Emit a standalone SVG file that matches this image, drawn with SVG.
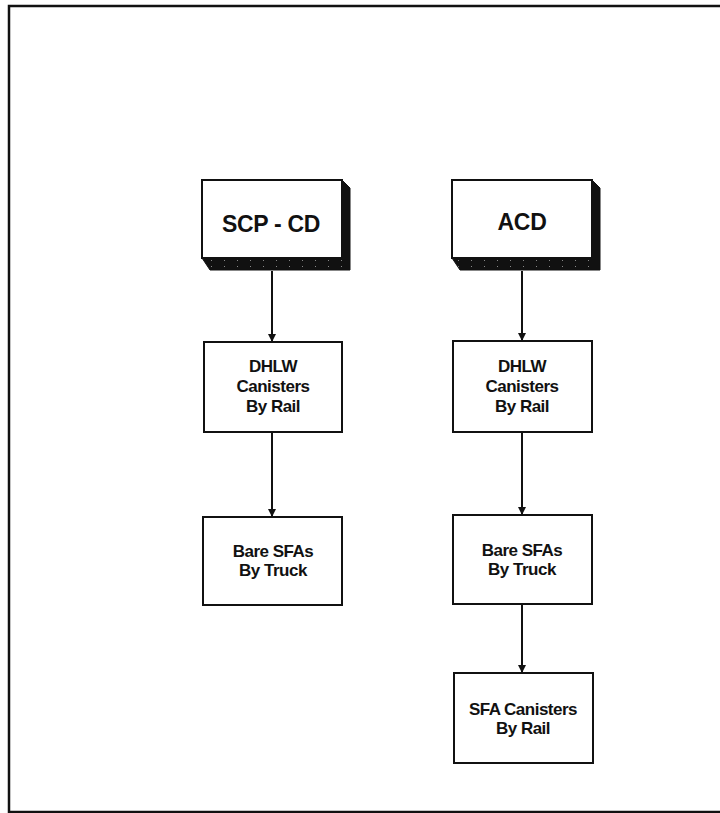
<svg xmlns="http://www.w3.org/2000/svg" width="720" height="813" viewBox="0 0 720 813">
<style>
.box{fill:#fff;stroke:#111;stroke-width:2}
.shadow{fill:url(#speckle);stroke:#111;stroke-width:1}
.t{font-family:"Liberation Sans",Arial,sans-serif;font-weight:bold;fill:#111;text-anchor:middle}
.big{font-size:23px;letter-spacing:-0.3px}
.small{font-size:17px;letter-spacing:-0.5px}
.conn{stroke:#111;stroke-width:2;fill:none;marker-end:url(#arrow)}
</style>
<defs>
<pattern id="speckle" width="13" height="6" patternUnits="userSpaceOnUse">
<rect width="13" height="6" fill="#111"/>
<rect x="3" y="2" width="1" height="1" fill="#888"/>
</pattern>
<marker id="arrow" viewBox="0 0 8 10" refX="8" refY="5" markerWidth="8" markerHeight="10" markerUnits="userSpaceOnUse" orient="auto">
<path d="M0,1 L8,5 L0,9 Z" fill="#111"/>
</marker>
</defs>
<rect x="9" y="6" width="720" height="806" fill="none" stroke="#111" stroke-width="2.5"/>
<g id="connectors">
<line class="conn" x1="272" y1="271" x2="272" y2="342"/>
<line class="conn" x1="272" y1="432" x2="272" y2="517"/>
<line class="conn" x1="522" y1="271" x2="522" y2="341"/>
<line class="conn" x1="522" y1="432" x2="522" y2="515"/>
<line class="conn" x1="522" y1="604" x2="522" y2="673"/>
</g>
<g id="scp-cd">
<polygon class="shadow" points="342,180 350,188 350,270 210,270 202,258 342,258"/>
<rect class="box" x="202" y="180" width="140" height="78"/>
<text class="t big" x="271" y="232">SCP - CD</text>
</g>
<g id="acd">
<polygon class="shadow" points="592,180 600,188 600,270 460,270 452,258 592,258"/>
<rect class="box" x="452" y="180" width="140" height="78"/>
<text class="t big" x="522" y="230">ACD</text>
</g>
<g id="dhlw-left">
<rect class="box" x="204" y="342" width="138" height="90"/>
<text class="t small" x="273" y="372">DHLW</text>
<text class="t small" x="273" y="392">Canisters</text>
<text class="t small" x="273" y="412">By Rail</text>
</g>
<g id="dhlw-right">
<rect class="box" x="453" y="341" width="139" height="91"/>
<text class="t small" x="522" y="372">DHLW</text>
<text class="t small" x="522" y="392">Canisters</text>
<text class="t small" x="522" y="412">By Rail</text>
</g>
<g id="bare-left">
<rect class="box" x="203" y="517" width="139" height="88"/>
<text class="t small" x="273" y="557">Bare SFAs</text>
<text class="t small" x="273" y="576">By Truck</text>
</g>
<g id="bare-right">
<rect class="box" x="453" y="515" width="139" height="89"/>
<text class="t small" x="522" y="556">Bare SFAs</text>
<text class="t small" x="522" y="575">By Truck</text>
</g>
<g id="sfa-canisters">
<rect class="box" x="454" y="673" width="139" height="90"/>
<text class="t small" x="523" y="715">SFA Canisters</text>
<text class="t small" x="523" y="734">By Rail</text>
</g>
</svg>
